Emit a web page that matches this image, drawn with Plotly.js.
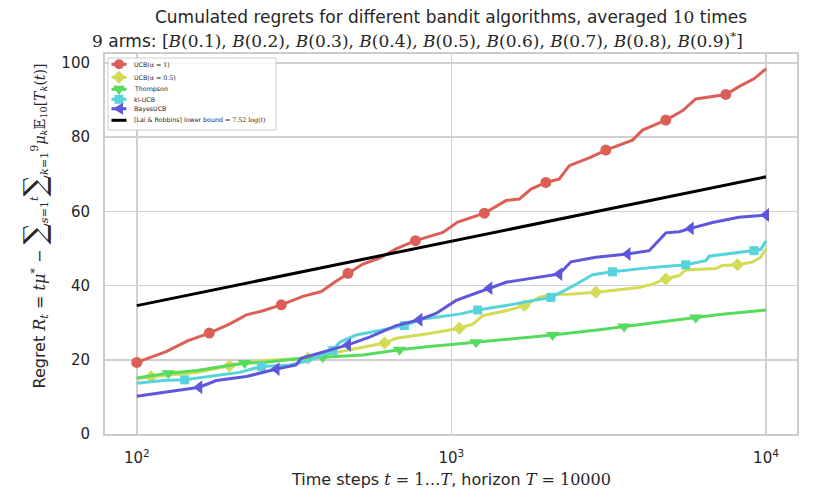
<!DOCTYPE html>
<html><head><meta charset="utf-8">
<script src="https://cdn.plot.ly/plotly-3.0.1.min.js"></script>
<style>html,body{margin:0;padding:0;background:#fff}#chart{width:813px;height:499px}</style>
</head><body><div id="chart"></div>
<script>
// ---- data ----
const arms = ['0.1','0.2','0.3','0.4','0.5','0.6','0.7','0.8','0.9'];
const algoNames = ['UCB(α=1)','UCB(α=0.5)','Thompson','kl-UCB','BayesUCB','[Lai & Robbins] lower bound'];
const xTickVals = [100, 1000, 10000];
const xTickText = ['10<sup>2</sup>','10<sup>3</sup>','10<sup>4</sup>'];
const yTickVals = [0, 20, 40, 60, 80, 100];

const tUCB1 = [100,124,145,170,197,223,252,288,337,386,425,469,523,591,667,769,939,1047,1273,1492,1644,1791,1997,2201,2370,2777,3097,3763,4050,4803,5423,5979,7450,8204,9155,10000];
const rUCB1 = [19.3,22.2,25.1,27.2,29.6,32.1,33.2,34.8,37.1,38.4,40.9,43.3,45.8,47.4,49.9,52.1,54.3,57.1,59.5,62.9,63.3,66.0,67.8,68.7,72.3,74.6,76.5,79.2,81.9,84.6,87.1,90.3,91.5,93.6,95.7,98.4];

const tUCB05 = [100,111,155,197,252,284,350,410,523,613,667,851,1060,1169,1257,1492,1706,1901,2096,2428,2878,3953,4358,4803,5297,5555,6925,7266,8108,9036,9616,10000];
const rUCB05 = [14.8,15.4,16.6,18.4,19.8,20.0,20.4,21.6,23.4,24.5,25.8,27.1,28.5,29.6,31.9,33.2,34.6,36.8,37.6,37.7,38.2,39.5,40.4,41.8,42.7,44.2,44.6,45.4,45.6,46.3,47.6,49.9];

const tThompson = [100,126,155,220,252,337,390,523,684,851,1060,1197,1683,2096,2951,3540,4573,5979,7266,10000];
const rThompson = [15.1,16.4,17.1,19.1,19.3,20.4,20.7,21.3,22.7,23.6,24.3,24.7,25.9,26.7,28.1,29.0,30.1,31.4,32.3,33.4];

const tKL = [100,121,142,175,212,249,306,354,420,441,498,591,667,709,811,962,1060,1212,1492,1770,2072,2428,2811,3251,4358,5555,6436,6596,9155,9616,10000];
const rKL = [13.7,14.4,14.6,15.7,16.6,18.2,18.6,19.8,22.5,24.7,26.7,27.9,28.7,29.2,31.0,31.9,32.3,33.4,34.6,35.8,36.8,39.8,42.9,43.7,44.9,45.6,46.7,47.9,49.4,49.7,52.1];

const tBayes = [100,121,158,179,223,278,321,333,390,469,549,667,791,894,1035,1320,1492,1811,2201,2399,2878,3630,4252,4803,5297,5763,6761,8204,10000];
const rBayes = [10.2,11.2,12.6,14.4,15.5,17.5,18.6,20.4,22.0,24.0,26.1,29.2,30.8,32.5,36.0,39.3,40.9,42.0,43.1,46.4,47.6,48.5,49.4,54.2,54.5,55.4,57.0,58.4,59.0];

const tLB = [100, 1000, 10000];
const rLB = [34.6, 51.9, 69.3];

// ---- styles ----
const SERIF = 'font-family:DejaVu Serif';
const m = s => '<span style="' + SERIF + '">' + s + '</span>';
const legendText = [
  'UCB(' + m('<i>α</i> = 1') + ')',
  'UCB(' + m('<i>α</i> = 0.5') + ')',
  'Thompson', 'kl-UCB', 'BayesUCB',
  '[Lai & Robbins] lower bound = ' + m('7.52 log(<i>t</i>)')
];
const styles = [
  {color:'#db5f57', symbol:'circle', size:11, marks:[0,3,7,11,15,18,22,26,29,32], path:null},
  {color:'#d3db57', symbol:'diamond', size:10, marks:[1,3,6,9,12,16,20,23,28],
   path:'M0,6.5L6.5,0L0,-6.5L-6.5,0Z'},
  {color:'#57db5f', symbol:'triangle-down', size:12, marks:[1,3,6,8,11,13,15,17],
   path:'M-6,3.5L6,3.5L0,-6Z'},
  {color:'#57d3db', symbol:'square', size:9, marks:[2,5,8,13,17,20,23,25,28],
   path:'M-4.5,-4.5L4.5,-4.5L4.5,4.5L-4.5,4.5Z'},
  {color:'#5f57db', symbol:'triangle-left', size:12, marks:[2,5,9,12,15,18,21,25,28],
   path:'M-6,0L4,6L4,-6Z'}
];
const seriesT = [tUCB1, tUCB05, tThompson, tKL, tBayes];
const seriesR = [rUCB1, rUCB05, rThompson, rKL, rBayes];

const traces = [];
seriesT.forEach((t, k) => {
  const st = styles[k], r = seriesR[k];
  traces.push({x:t, y:r, type:'scatter', mode:'lines', name:algoNames[k],
    line:{color:st.color, width:3}, showlegend:false, hoverinfo:'x+y'});
  traces.push({x:st.marks.map(i => t[i]), y:st.marks.map(i => r[i]), type:'scatter', mode:'markers',
    name:algoNames[k], marker:{color:st.color, symbol:st.symbol, size:st.size, line:{width:0}},
    showlegend:false, hoverinfo:'x+y'});
});
traces.push({x:tLB, y:rLB, type:'scatter', mode:'lines', name:algoNames[5],
  line:{color:'#000000', width:3}, showlegend:false, hoverinfo:'x+y'});

// ---- geometry helpers (pixel -> paper) ----
const PL = 105, PR = 797, PT = 54, PB = 434;
const xp = px => (px - PL) / (PR - PL);
const yp = py => (PB - py) / (PB - PT);

const shapes = [];
const annotations = [];
// custom compact legend
shapes.push({type:'rect', xref:'paper', yref:'paper', x0:xp(108), x1:xp(276), y0:yp(58), y1:yp(130),
  fillcolor:'rgba(255,255,255,0.85)', line:{color:'#cccccc', width:1}, layer:'above'});
const rowsY = [64.3, 77.3, 89.3, 99.3, 108.7, 120.3];
rowsY.forEach((ry, k) => {
  const col = k < 5 ? styles[k].color : '#000000';
  shapes.push({type:'line', xref:'paper', yref:'paper', x0:xp(111.5), x1:xp(126.5), y0:yp(ry), y1:yp(ry),
    line:{color:col, width:3}, layer:'above'});
  if (k < 5) {
    const st = styles[k];
    if (st.symbol === 'circle') {
      shapes.push({type:'circle', xref:'paper', yref:'paper', xsizemode:'pixel', ysizemode:'pixel',
        xanchor:xp(119), yanchor:yp(ry), x0:-5, x1:5, y0:-5, y1:5, fillcolor:col, line:{width:0}, layer:'above'});
    } else {
      shapes.push({type:'path', xref:'paper', yref:'paper', xsizemode:'pixel', ysizemode:'pixel',
        xanchor:xp(119), yanchor:yp(ry), path:st.path, fillcolor:col, line:{width:0}, layer:'above'});
    }
  }
  annotations.push({xref:'paper', yref:'paper', x:xp(132), y:yp(ry), xanchor:'left', yanchor:'middle',
    text:legendText[k], showarrow:false, font:{size:6.3, color:'#262626'}});
});

// y axis label
annotations.push({xref:'paper', yref:'paper', x:xp(34), y:yp(391), xanchor:'center', yanchor:'bottom',
  textangle:-90, showarrow:false, font:{size:16, color:'#262626'},
  text:'Regret <span style="' + SERIF + '"><i>R</i><sub><i>t</i></sub> = <i>tμ</i><sup>*</sup> − ' +
   '<span style="font-size:30px">∑</span><sub><i>s</i>=1</sub><sup><i>t</i></sup>' +
   '<span style="font-size:30px">∑</span><sub><i>k</i>=1</sub><sup>9</sup>' +
   '<span style="font-size:14px"><i>μ</i><sub><i>k</i></sub>𝔼<sub>10</sub>[<i>T</i><sub><i>k</i></sub>(<i>t</i>)]</span></span>'});
// x axis label
annotations.push({xref:'paper', yref:'paper', x:0.5, y:yp(479), xanchor:'center', yanchor:'middle',
  showarrow:false, font:{size:16, color:'#262626'},
  text:'Time steps ' + m('<i>t</i> = 1…<i>T</i>') + ', horizon ' + m('<i>T</i> = 10000')});

const titleLine1 = 'Cumulated regrets for different bandit algorithms, averaged ' + m('10') + ' times';
const armsText = arms.map(a => '<i>B</i>(' + a + ')').join(', ');
const titleLine2 = m('9') + ' arms: ' + m('[' + armsText) + '<sup>' + m('*') + '</sup>' + m(']');
// second title line (centred; xshift compensates the renderer's width measurement of mixed-font text)
annotations.push({xref:'paper', yref:'paper', x:0.5, xshift:-34, y:yp(40), xanchor:'center', yanchor:'middle',
  showarrow:false, font:{size:17, color:'#262626'}, text:titleLine2});

const layout = {
  width:813, height:499,
  margin:{l:PL, r:813-PR, t:PT, b:499-PB},
  paper_bgcolor:'#ffffff', plot_bgcolor:'#ffffff',
  font:{family:'DejaVu Sans', color:'#262626'},
  title:{text:titleLine1, x:0.5, xref:'paper', xanchor:'center', y:1-17/499, yref:'container', yanchor:'middle',
    font:{size:17, color:'#262626'}},
  showlegend:false,
  xaxis:{type:'log', range:[1.899, 4.0985], tickvals:xTickVals, ticktext:xTickText,
    showgrid:true, gridcolor:'#d0d0d0', gridwidth:1.6, zeroline:false,
    showline:true, mirror:true, linecolor:'#cccccc', linewidth:2,
    ticks:'', ticklabelstandoff:9, tickfont:{size:15, color:'#262626'}},
  yaxis:{range:[0, 102.4], tickvals:yTickVals,
    showgrid:true, gridcolor:'#d0d0d0', gridwidth:1.6, zeroline:false,
    showline:true, mirror:true, linecolor:'#cccccc', linewidth:2,
    ticks:'', ticklabelstandoff:10, tickfont:{size:15, color:'#262626'}},
  shapes:shapes, annotations:annotations
};
Plotly.newPlot('chart', traces, layout, {displayModeBar:false, staticPlot:true});
</script></body></html>
